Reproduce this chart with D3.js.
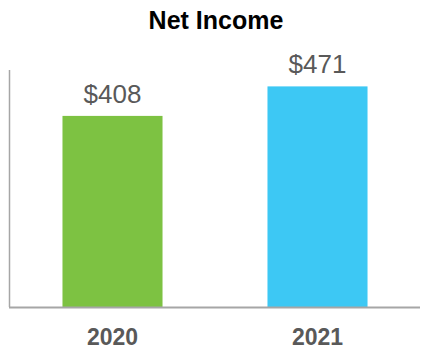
<!DOCTYPE html>
<html>
<head>
<meta charset="utf-8">
<script src="https://cdn.jsdelivr.net/npm/d3@7"></script>
<style>
  body { margin: 0; background: #fff; }
  svg { display: block; font-family: "Liberation Sans", Arial, sans-serif; }
</style>
</head>
<body>
<div id="chart"></div>
<script>
const years = ["2020", "2021"];
const netIncome = [408, 471];
const barColors = ["#7dc242", "#3dc8f4"];
const title = "Net Income";

const totalWidth = 430, totalHeight = 360;
const margin = { top: 70, right: 10, bottom: 53, left: 10 };
const width = totalWidth - margin.left - margin.right;
const height = totalHeight - margin.top - margin.bottom;

const data = years.map((y, i) => ({ year: y, value: netIncome[i], color: barColors[i] }));

const svg = d3.select("#chart").append("svg")
    .attr("width", totalWidth)
    .attr("height", totalHeight);

const g = svg.append("g")
    .attr("transform", `translate(${margin.left},${margin.top})`);

// scales
const xScale = d3.scaleBand()
    .domain(years)
    .range([0, width])
    .paddingInner(0.512)
    .paddingOuter(0.256);

const yScale = d3.scaleLinear()
    .domain([0, 506])
    .range([height, 0]);

// title
svg.append("text")
    .attr("x", 216)
    .attr("y", 29)
    .attr("text-anchor", "middle")
    .style("font-size", "25px")
    .style("font-weight", "bold")
    .style("fill", "#000")
    .text(title);

// bars
g.selectAll(".bar")
    .data(data)
    .enter().append("rect")
    .attr("class", "bar")
    .attr("x", d => xScale(d.year))
    .attr("y", d => yScale(d.value))
    .attr("width", xScale.bandwidth())
    .attr("height", d => yScale(0) - yScale(d.value))
    .style("fill", d => d.color);

// value labels
g.selectAll(".value-label")
    .data(data)
    .enter().append("text")
    .attr("class", "value-label")
    .attr("x", d => xScale(d.year) + xScale.bandwidth() / 2)
    .attr("y", d => yScale(d.value) - 13)
    .attr("text-anchor", "middle")
    .style("font-size", "26px")
    .style("fill", "#595959")
    .text(d => "$" + d.value);

// axis lines (no ticks)
g.append("line")
    .attr("x1", -0.5).attr("x2", -0.5)
    .attr("y1", 0).attr("y2", height)
    .style("stroke", "#a6a6a6")
    .style("stroke-width", 1.5);

g.append("line")
    .attr("x1", -1).attr("x2", width)
    .attr("y1", height + 0.5).attr("y2", height + 0.5)
    .style("stroke", "#a6a6a6")
    .style("stroke-width", 2);

// category labels
const xAxis = g.append("g")
    .attr("transform", `translate(0,${height})`)
    .call(d3.axisBottom(xScale).tickSize(0).tickPadding(22));

xAxis.select(".domain").remove();
xAxis.selectAll("text")
    .style("font-family", "\"Liberation Sans\", Arial, sans-serif")
    .style("font-size", "23px")
    .style("font-weight", "bold")
    .style("fill", "#595959");
</script>
</body>
</html>
